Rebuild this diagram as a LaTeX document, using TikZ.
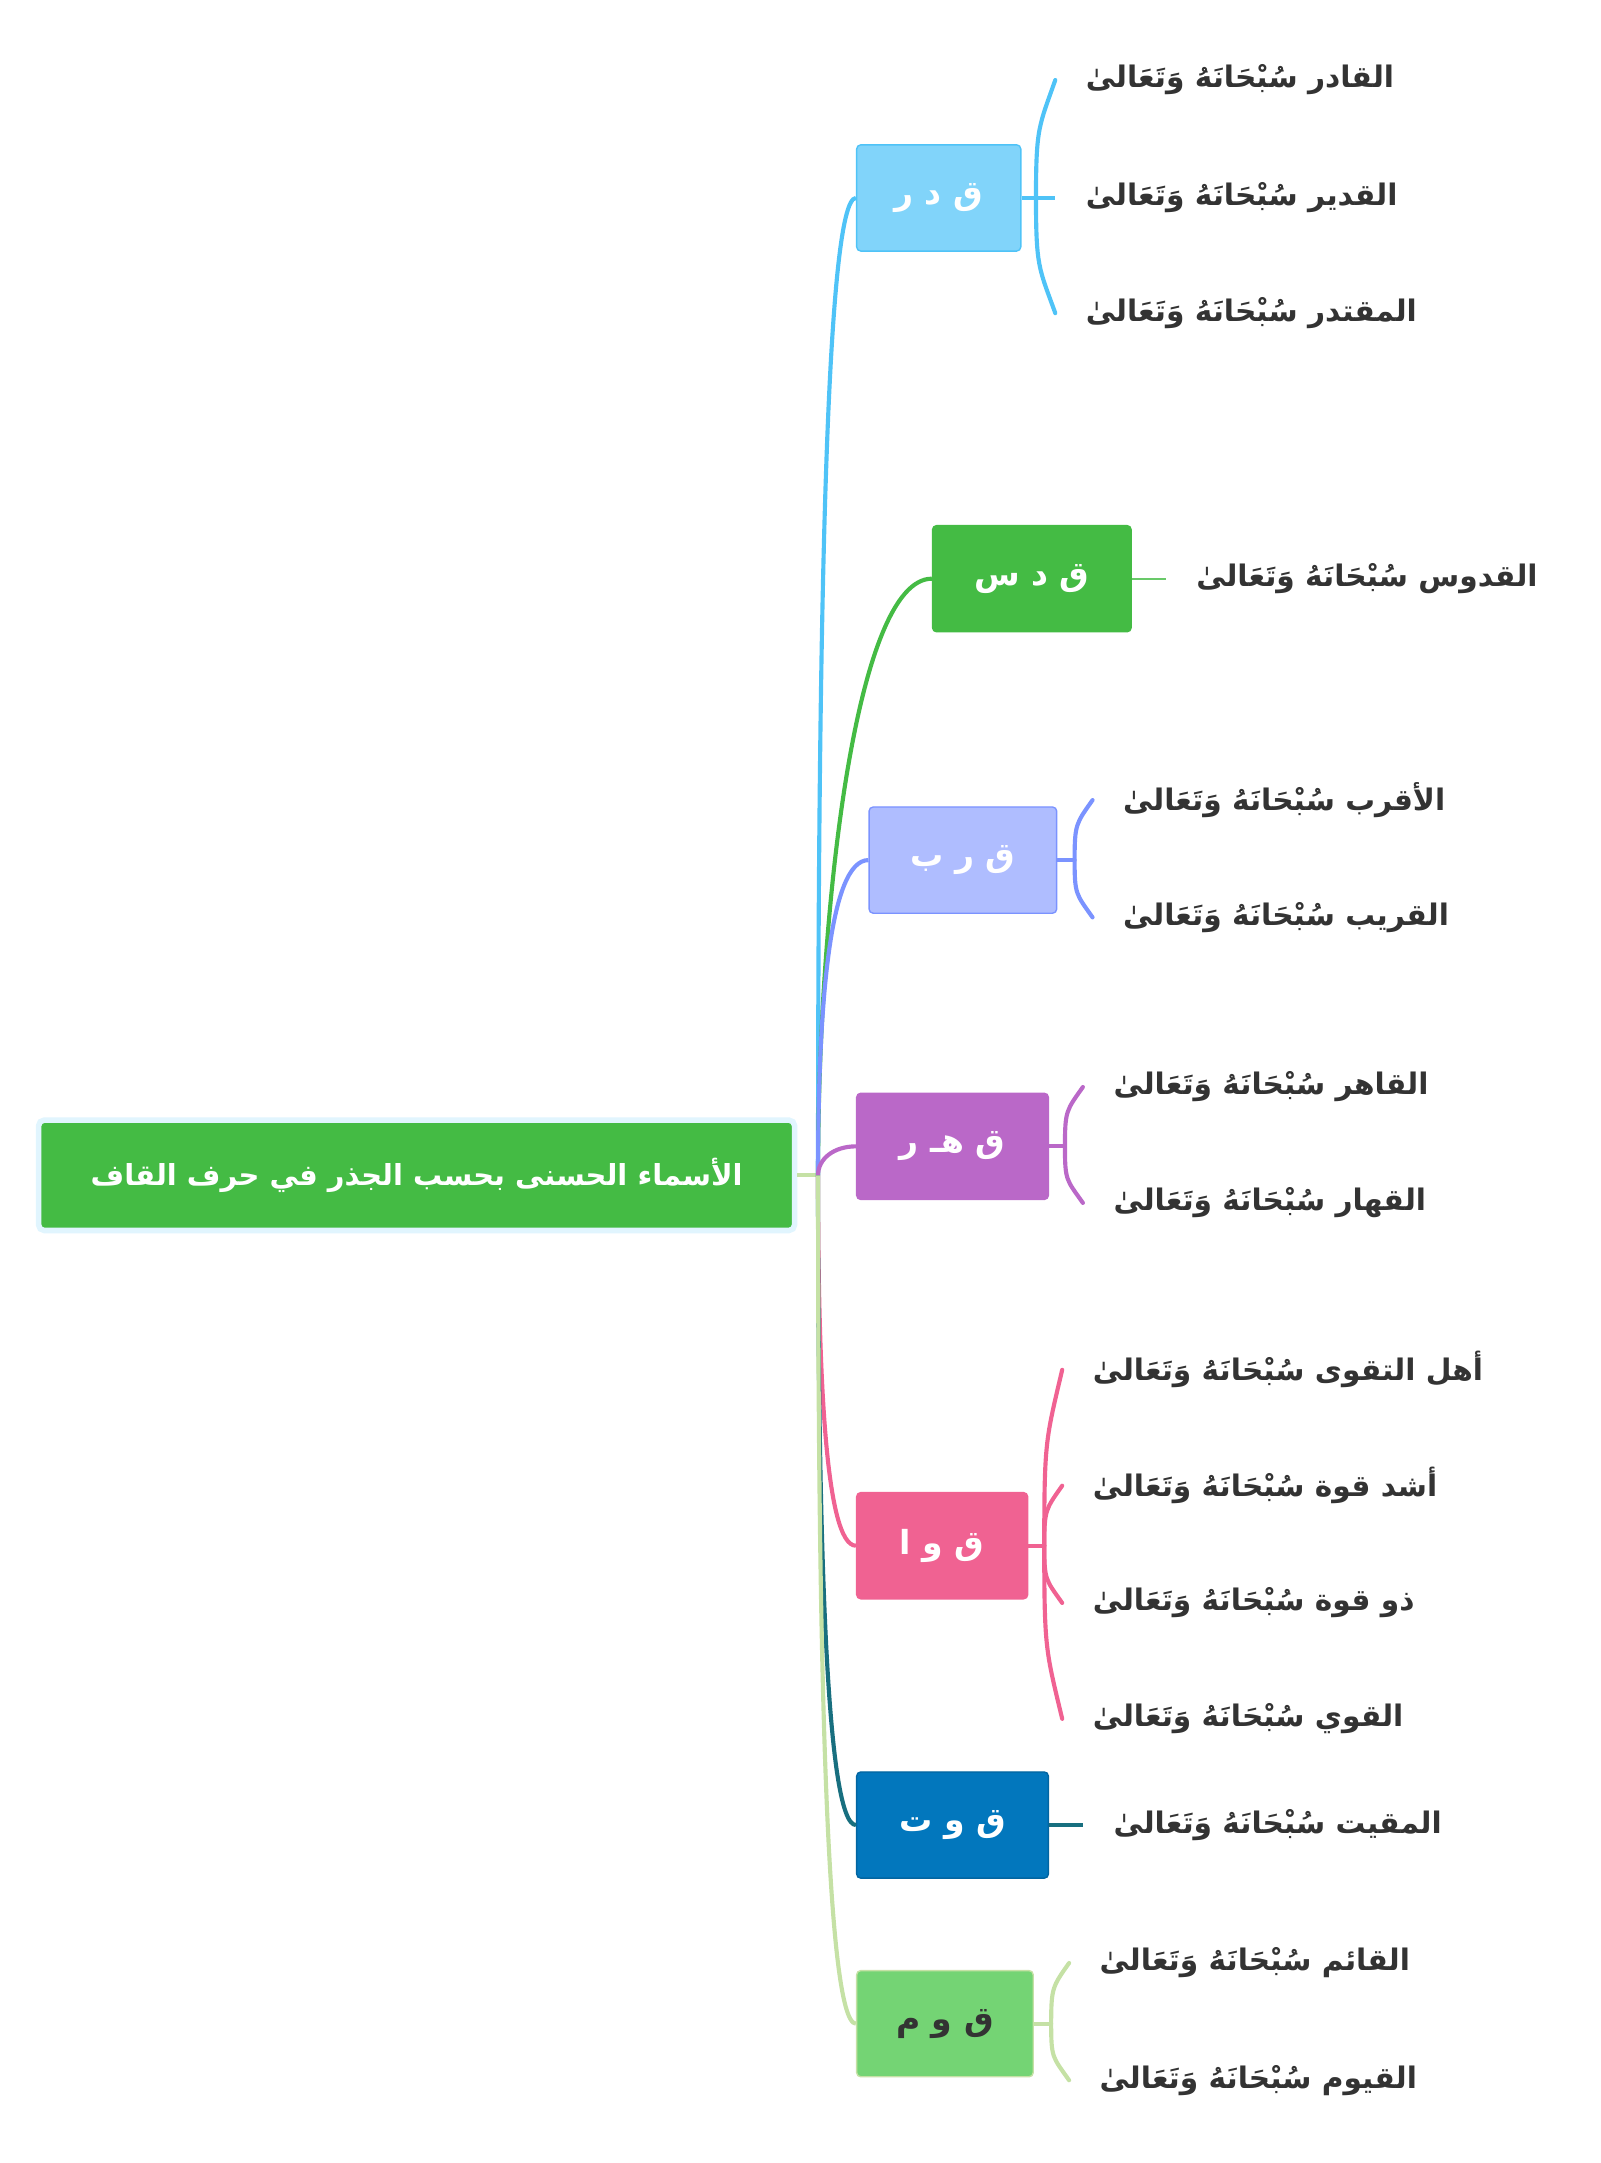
\documentclass[tikz,border=0pt]{standalone}
\usepackage{fontspec}
\newfontfamily\arabicfont[Script=Arabic]{DejaVu Sans}
\TeXXeTstate=1

\definecolor{zelena}{HTML}{44BB44}
\definecolor{sij}{HTML}{E1F5FE}
\definecolor{modra}{HTML}{81D4FA}
\definecolor{modracrta}{HTML}{4FC3F7}
\definecolor{vijola}{HTML}{AFBDFF}
\definecolor{vijolacrta}{HTML}{7B93FF}
\definecolor{lila}{HTML}{BA68C8}
\definecolor{roza}{HTML}{F06292}
\definecolor{temnomodra}{HTML}{0277BD}
\definecolor{tirkiz}{HTML}{186F7F}
\definecolor{svetlozelena}{HTML}{74D474}
\definecolor{bledozelena}{HTML}{C5E1A5}
\definecolor{besedilo}{HTML}{333333}

\begin{document}
\begin{tikzpicture}[x=1pt,y=-1pt,
  koren/.style={fill=zelena,draw=sij,line width=4pt,rounded corners=4pt,minimum width=548pt,minimum height=80pt,text=white,font=\arabicfont\bfseries\fontsize{21}{26}\selectfont},
  veja/.style={fill=#1,rounded corners=3pt,line width=1pt,minimum height=77pt,text=white,font=\arabicfont\bfseries\fontsize{24}{28}\selectfont},
  ime/.style={anchor=west,inner sep=0pt,text=besedilo,font=\arabicfont\bfseries\fontsize{21.5}{26}\selectfont},
  vez/.style={draw=#1,line width=3pt},
  oklepaj/.style={draw=#1,line width=3pt,line cap=round}]
\useasboundingbox (0,0) rectangle (1160,1568);

%koren
\node[koren] (koren) at (302,852) {\beginR الأسماء الحسنى بحسب الجذر في حرف القاف\endR};
\coordinate (deblo) at (593,852);

%veje
\node[veja=modra,draw=modracrta,minimum width=119pt] (qdr) at (680.5,143.5) {\beginR ق د ر\endR};
\node[veja=zelena,draw=zelena,minimum width=144pt] (qds) at (748,419.5) {\beginR ق د س\endR};
\node[veja=vijola,draw=vijolacrta,minimum width=136pt] (qrb) at (698,623.5) {\beginR ق ر ب\endR};
\node[veja=lila,draw=lila,minimum width=139pt] (qhr) at (690.5,831) {\beginR ق هـ ر\endR};
\node[veja=roza,draw=roza,minimum width=124pt] (qwa) at (683,1120.5) {\beginR ق و ا\endR};
\node[veja=temnomodra,draw=temnomodra!85!black,minimum width=139pt] (qwt) at (690.5,1323) {\beginR ق و ت\endR};
\node[veja=svetlozelena,draw=bledozelena,minimum width=128pt,text=besedilo] (qwm) at (685,1467) {\beginR ق و م\endR};

%imena
\node[ime] (qdr1) at (787,58) {\beginR القادر سُبْحَانَهُ وَتَعَالىٰ\endR};
\node[ime] (qdr2) at (787,143.5) {\beginR القدير سُبْحَانَهُ وَتَعَالىٰ\endR};
\node[ime] (qdr3) at (787,227) {\beginR المقتدر سُبْحَانَهُ وَتَعَالىٰ\endR};
\node[ime] (qds1) at (867,419.5) {\beginR القدوس سُبْحَانَهُ وَتَعَالىٰ\endR};
\node[ime] (qrb1) at (814,580) {\beginR الأقرب سُبْحَانَهُ وَتَعَالىٰ\endR};
\node[ime] (qrb2) at (814,665) {\beginR القريب سُبْحَانَهُ وَتَعَالىٰ\endR};
\node[ime] (qhr1) at (807,788) {\beginR القاهر سُبْحَانَهُ وَتَعَالىٰ\endR};
\node[ime] (qhr2) at (807,872) {\beginR القهار سُبْحَانَهُ وَتَعَالىٰ\endR};
\node[ime] (qwa1) at (792,993) {\beginR أهل التقوى سُبْحَانَهُ وَتَعَالىٰ\endR};
\node[ime] (qwa2) at (792,1077) {\beginR أشد قوة سُبْحَانَهُ وَتَعَالىٰ\endR};
\node[ime] (qwa3) at (792,1162) {\beginR ذو قوة سُبْحَانَهُ وَتَعَالىٰ\endR};
\node[ime] (qwa4) at (792,1246) {\beginR القوي سُبْحَانَهُ وَتَعَالىٰ\endR};
\node[ime] (qwt1) at (807,1323) {\beginR المقيت سُبْحَانَهُ وَتَعَالىٰ\endR};
\node[ime] (qwm1) at (797,1423) {\beginR القائم سُبْحَانَهُ وَتَعَالىٰ\endR};
\node[ime] (qwm2) at (797,1508) {\beginR القيوم سُبْحَانَهُ وَتَعَالىٰ\endR};

%povezave od korena
\draw[vez=bledozelena] (koren.east) -- (deblo);
\draw[vez=modracrta] (deblo) .. controls +(0,-390) and +(-22,0) .. (qdr.west);
\draw[vez=zelena] (deblo) .. controls +(0,-195) and +(-55,0) .. (qds.west);
\draw[vez=vijolacrta] (deblo) .. controls +(0,-125) and +(-28,0) .. (qrb.west);
\draw[vez=lila] (deblo) .. controls +(0,-12) and +(-16,0) .. (qhr.west);
\draw[vez=roza] (deblo) .. controls +(0,147) and +(-22,0) .. (qwa.west);
\draw[vez=tirkiz] (deblo) .. controls +(0,259) and +(-22,0) .. (qwt.west);
\draw[vez=bledozelena] (deblo) .. controls +(0,338) and +(-22,0) .. (qwm.west);

%oklepaji
\coordinate (qdrj) at (751,143.5);
\draw[vez=modracrta] (qdr.east) -- ([xshift=-22pt]qdr2.west);
\foreach \i/\a/\b in {1/-51/34,3/50/-33}
  \draw[oklepaj=modracrta] (qdrj) .. controls +(0,\a) and +(-12,\b) .. ([xshift=-22pt]qdr\i.west);

\draw[draw=zelena!80!white,line width=1.5pt] (qds.east) -- ([xshift=-22pt]qds1.west);

\coordinate (qrbj) at (779,623.5);
\draw[vez=vijolacrta] (qrb.east) -- (qrbj);
\foreach \i/\a/\b in {1/-26/17,2/25/-17}
  \draw[oklepaj=vijolacrta] (qrbj) .. controls +(0,\a) and +(-12,\b) .. ([xshift=-22pt]qrb\i.west);

\coordinate (qhrj) at (772,831);
\draw[vez=lila] (qhr.east) -- (qhrj);
\foreach \i/\a/\b in {1/-26/17,2/25/-17}
  \draw[oklepaj=lila] (qhrj) .. controls +(0,\a) and +(-12,\b) .. ([xshift=-22pt]qhr\i.west);

\coordinate (qwaj) at (757,1120.5);
\draw[vez=roza] (qwa.east) -- (qwaj);
\foreach \i/\a/\b in {1/-76/51,2/-26/17,3/25/-17,4/75/-50}
  \draw[oklepaj=roza] (qwaj) .. controls +(0,\a) and +(-12,\b) .. ([xshift=-22pt]qwa\i.west);

\draw[vez=tirkiz] (qwt.east) -- ([xshift=-22pt]qwt1.west);

\coordinate (qwmj) at (762,1467);
\draw[vez=bledozelena] (qwm.east) -- (qwmj);
\foreach \i/\a/\b in {1/-26/17,2/25/-17}
  \draw[oklepaj=bledozelena] (qwmj) .. controls +(0,\a) and +(-12,\b) .. ([xshift=-22pt]qwm\i.west);

\end{tikzpicture}
\end{document}
